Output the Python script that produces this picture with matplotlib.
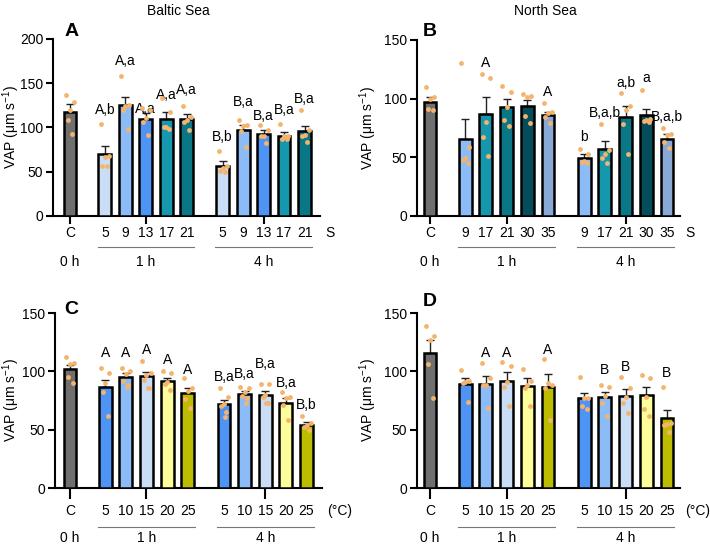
import matplotlib
matplotlib.use('Agg')
import matplotlib.pyplot as plt
import matplotlib.transforms as mtransforms
import numpy as np

plt.rcParams['font.family'] = ['Liberation Sans', 'DejaVu Sans']
plt.rcParams['mathtext.default'] = 'regular'

# ---- panel A : Baltic Sea, salinity ----
A_levels = ['5', '9', '13', '17', '21']
A_ctrl = 118
A_ctrl_sem = 8
A_ctrl_pts = [137, 129, 120, 109, 93]
A_1h = [70, 125, 110, 110, 110]
A_1h_sem = [9, 10, 6.5, 8, 5]
A_1h_pts = [[104, 68, 67, 57, 56], [158, 125, 124, 120, 98], [122, 120, 111, 106, 91],
            [133, 118, 101, 100, 98], [124, 112, 109, 106, 97]]
A_4h = [57, 97.5, 92.6, 90.7, 96.4]
A_4h_sem = [4.7, 5.5, 4.2, 3.8, 5.3]
A_4h_pts = [[73, 57, 54, 51, 50], [109, 103, 102, 96, 78], [103, 97, 90, 90, 83],
            [104, 90, 90, 87, 87], [120, 97, 91, 90, 84]]
A_1h_sig = ['A,b', 'A,a', 'A,a', 'A,a', 'A,a']
A_4h_sig = ['B,b', 'B,a', 'B,a', 'B,a', 'B,a']

# ---- panel B : North Sea, salinity ----
B_levels = ['9', '17', '21', '30', '35']
B_ctrl = 97.4
B_ctrl_sem = 4.3
B_ctrl_pts = [110, 101, 100, 91, 90]
B_1h = [65.6, 86.6, 93, 93.4, 86]
B_1h_sem = [16.8, 14.4, 7, 5.4, 3]
B_1h_pts = [[130, 59, 49, 48, 45], [121, 118, 80, 67, 51], [111, 106, 93, 82, 77],
            [104, 102, 101, 85, 79], [96, 89, 88, 84, 79]]
B_4h = [49.7, 57, 84, 86, 66]
B_4h_sem = [3.1, 7, 10, 5.2, 3.6]
B_4h_pts = [[57, 53, 47, 46, 45], [78, 56, 53, 49, 45], [105, 94, 90, 78, 53],
            [107, 83, 82, 81, 80], [75, 70, 69, 63, 58]]
B_1h_sig = ['', 'A', '', '', 'A']
B_4h_sig = ['b', 'B,a,b', 'a,b', 'a', 'B,a,b']

# ---- panel C : Baltic Sea, temperature ----
T_levels = ['5', '10', '15', '20', '25']
C_ctrl = 101.7
C_ctrl_sem = 3.7
C_ctrl_pts = [112, 107, 106, 95, 90]
C_1h = [86.3, 94.9, 96, 91.7, 81.7]
C_1h_sem = [6.3, 3.4, 3.7, 2.9, 3.7]
C_1h_pts = [[103, 99, 90, 82, 62], [103, 100, 98, 92, 88, 87], [109, 99, 97, 93, 86, 86],
            [100, 99, 91, 89, 84], [94, 86, 83, 76, 69]]
C_4h = [71.7, 80.5, 79.7, 73.2, 54]
C_4h_sem = [3.7, 2.9, 3.7, 3.7, 2.6]
C_4h_pts = [[86, 78, 72, 70, 65, 61], [87, 86, 82, 79, 77, 73], [89, 89, 80, 78, 73, 73],
            [82, 78, 77, 71, 58], [62, 56, 54, 52, 50]]
C_1h_sig = ['A', 'A', 'A', 'A', 'A']
C_4h_sig = ['B,a', 'B,a', 'B,a', 'B,a', 'B,b']

# ---- panel D : North Sea, temperature ----
D_ctrl = 115.9
D_ctrl_sem = 11.3
D_ctrl_pts = [139, 130, 127, 106, 77]
D_1h = [89.1, 89.1, 92, 87.4, 86.8]
D_1h_sem = [4.9, 6.9, 7.6, 6.6, 10.8]
D_1h_pts = [[101, 92, 91, 90, 74], [107, 94, 88, 88, 69], [108, 105, 91, 87, 70],
            [102, 92, 88, 86, 70], [111, 88, 90, 86, 58]]
D_4h = [76.9, 77.7, 78.8, 79.7, 59.8]
D_4h_sem = [4.8, 4.8, 5.7, 7.1, 7.1]
D_4h_pts = [[95, 77, 77, 70, 68], [88, 87, 79, 73, 62], [95, 86, 78, 73, 64],
            [97, 94, 78, 68, 62], [87, 56, 55, 54, 48]]
D_1h_sig = ['', 'A', 'A', '', 'A']
D_4h_sig = ['', 'B', 'B', '', 'B']

# heights of the letter labels (layout only)
A_sig_y = [[120, 175, 121, 137, 142], [89, 128.6, 113.5, 119.5, 131.7]]
B_sig_y = [[0, 130, 0, 0, 106], [67.6, 87.5, 113, 117.4, 84.7]]
C_sig_y = [[116, 116, 118, 110, 101], [94.8, 97.6, 106.7, 90.2, 71.2]]
D_sig_y = [[0, 115.3, 115.3, 0, 118.7], [0, 101, 103.3, 0, 98.2]]

ctrl_color = '#6f6f6f'
A_colors = ['#c9ddf7', '#8cbcf7', '#4d94f5', '#1597ae', '#0a7787']
B_colors = ['#8cbcf7', '#1597ae', '#0a7787', '#064d5c', '#88a8d6']
T_colors = ['#4d94f5', '#8cbcf7', '#c9ddf7', '#fdfd9c', '#bdbd00']
dot_color = '#f5b46e'

pos_1h = np.arange(5) + 1.7
pos_4h = np.arange(5) + 7.45
jitter = [-0.2, 0.2, 0.0, -0.12, 0.12, 0.05]


def draw_panel(ax, letter, letter_xy, levels, unit, ctrl, ctrl_sem, ctrl_pts,
               m1, s1, p1, m4, s4, p4, sig1, sig4, sig_y, colors, ymax, xlim, offs, ylab_x):
    fig = ax.figure
    xs = [0] + list(pos_1h) + list(pos_4h)
    means = [ctrl] + list(m1) + list(m4)
    sems = [ctrl_sem] + list(s1) + list(s4)
    pts = [ctrl_pts] + list(p1) + list(p4)
    cols = [ctrl_color] + colors + colors
    for x, m, s, p, c in zip(xs, means, sems, pts, cols):
        ax.errorbar(x, m, yerr=[[0], [s]], color='#222222', lw=1, capsize=3,
                    capthick=1, zorder=2)
        ax.bar(x, m, width=0.62, color=c, edgecolor='black', linewidth=1.8, zorder=3)
        jx = [x + jitter[i % len(jitter)] for i in range(len(p))]
        ax.scatter(jx, p, s=12, color=dot_color, zorder=4, linewidths=0)
    for xpos, sig, ys in [(pos_1h, sig1, sig_y[0]), (pos_4h, sig4, sig_y[1])]:
        for x, t, y in zip(xpos, sig, ys):
            if t:
                ax.text(x, y, t, ha='center', va='center', fontsize=10)

    ax.set_xlim(*xlim)
    ax.set_ylim(0, ymax)
    ax.set_yticks(np.arange(0, ymax + 1, 50))
    ax.spines['top'].set_visible(False)
    ax.spines['right'].set_visible(False)
    for sp in ['left', 'bottom']:
        ax.spines[sp].set_linewidth(1.5)
    c1 = pos_1h.mean()
    c4 = pos_4h.mean()
    ax.set_xticks([0, c1, c4])
    ax.set_xticklabels([])
    ax.tick_params(axis='x', length=offs[3], width=1.5, direction='out')
    ax.tick_params(axis='y', length=5, width=1.5, labelsize=10, pad=2)
    ax.set_ylabel('VAP (μm s$^{-1}$)', fontsize=10)
    ax.yaxis.set_label_coords(ylab_x, 0.5)

    tr = ax.get_xaxis_transform()
    lab_off, line_off, grp_off = offs[0], offs[1], offs[2]
    xl = [0] + list(pos_1h) + list(pos_4h)
    tl = ['C'] + levels + levels
    for x, t in zip(xl, tl):
        ax.annotate(t, xy=(x, 0), xycoords=tr, xytext=(0, -lab_off), textcoords='offset pixels',
                    ha='center', va='center', fontsize=10)
    ax.annotate(unit, xy=(1, 0), xycoords='axes fraction', xytext=(5, -lab_off),
                textcoords='offset pixels', ha='left', va='center', fontsize=10)
    line_tr = mtransforms.offset_copy(tr, fig=fig, y=-line_off, units='dots')
    for c in [c1, c4]:
        ax.plot([c - 2.35, c + 2.35], [0, 0], transform=line_tr, color='#777777',
                lw=0.8, clip_on=False)
    for x, t in zip([0, c1, c4], ['0 h', '1 h', '4 h']):
        ax.annotate(t, xy=(x, 0), xycoords=tr, xytext=(0, -grp_off), textcoords='offset pixels',
                    ha='center', va='center', fontsize=10)
    fig.text(letter_xy[0] / 710, 1 - letter_xy[1] / 550, letter, fontsize=14,
             fontweight='bold', ha='center', va='center')


fig = plt.figure(figsize=(7.1, 5.5), dpi=100)
axA = fig.add_axes([53 / 710, 0.6073, 267 / 710, 0.3218])
axB = fig.add_axes([417 / 710, 0.6073, 263 / 710, 0.3200])
axC = fig.add_axes([55 / 710, 0.1127, 267 / 710, 0.3182])
axD = fig.add_axes([417 / 710, 0.1127, 263 / 710, 0.3182])

top_offs = (17, 31, 46, 6)
bot_offs = (23, 39, 50, 8)

draw_panel(axA, 'A', (72, 32), A_levels, 'S', A_ctrl, A_ctrl_sem, A_ctrl_pts,
           A_1h, A_1h_sem, A_1h_pts, A_4h, A_4h_sem, A_4h_pts, A_1h_sig, A_4h_sig,
           A_sig_y, A_colors, 200, (-0.83, 12.2), top_offs, (22 - 53) / 267)
draw_panel(axB, 'B', (430, 32), B_levels, 'S', B_ctrl, B_ctrl_sem, B_ctrl_pts,
           B_1h, B_1h_sem, B_1h_pts, B_4h, B_4h_sem, B_4h_pts, B_1h_sig, B_4h_sig,
           B_sig_y, B_colors, 150, (-0.63, 12.08), top_offs, (379 - 417) / 263)
draw_panel(axC, 'C', (71, 310), T_levels, '(°C)', C_ctrl, C_ctrl_sem, C_ctrl_pts,
           C_1h, C_1h_sem, C_1h_pts, C_4h, C_4h_sem, C_4h_pts, C_1h_sig, C_4h_sig,
           C_sig_y, T_colors, 150, (-0.73, 12.2), bot_offs, (22 - 55) / 267)
draw_panel(axD, 'D', (430, 302), T_levels, '(°C)', D_ctrl, D_ctrl_sem, D_ctrl_pts,
           D_1h, D_1h_sem, D_1h_pts, D_4h, D_4h_sem, D_4h_pts, D_1h_sig, D_4h_sig,
           D_sig_y, T_colors, 150, (-0.63, 12.08), bot_offs, (379 - 417) / 263)

fig.text(178 / 710, 1 - 11 / 550, 'Baltic Sea', ha='center', va='center', fontsize=10)
fig.text(545 / 710, 1 - 11 / 550, 'North Sea', ha='center', va='center', fontsize=10)

plt.savefig('out.png', dpi=100)
